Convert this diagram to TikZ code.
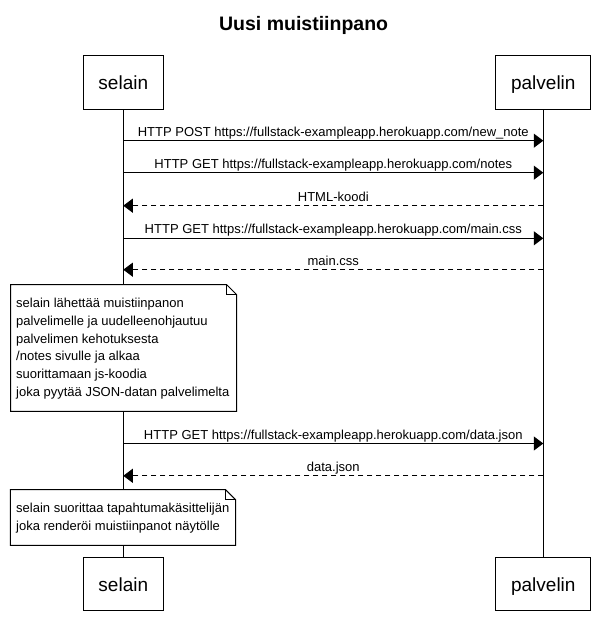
\documentclass[tikz,border=0pt]{standalone}
\usepackage{fontspec}
\setmainfont{Liberation Sans}
\usetikzlibrary{arrows.meta,calc}
\begin{document}
\begin{tikzpicture}[x=1pt,y=-1pt,
  pbox/.style={draw=black, line width=1pt, fill=white, inner sep=0pt,
    minimum height=53.3pt, text height=15pt, text depth=0pt,
    font=\fontsize{19pt}{22pt}\selectfont},
  lifeline/.style={draw=black, line width=1pt},
  msg/.style={draw=black, line width=1pt, -{Triangle[length=9.5pt,width=14pt]}},
  reply/.style={msg, dash pattern=on 5pt off 4pt},
  lbl/.style={anchor=base, inner sep=0pt, font=\fontsize{13pt}{15pt}\selectfont},
  notebox/.style={draw=black, line width=1pt, fill=white},
  notetxt/.style={anchor=north west, inner sep=0pt, align=left,
    font=\fontsize{13pt}{17.75pt}\selectfont},
]
\useasboundingbox (0,0) rectangle (605,634);
\fill[white] (0,0) rectangle (605,634);

% title
\node[anchor=base, inner sep=0pt, font=\bfseries\fontsize{19.5pt}{22pt}\selectfont] (title) at (303.6,30.7) {Uusi muistiinpano};

% participants
\node[pbox, minimum width=80pt] (s1) at (123.3,82.35) {selain};
\node[pbox, minimum width=94.7pt] (p1) at (543.3,82.35) {palvelin};
\node[pbox, minimum width=80pt] (s2) at (123.3,583.85) {selain};
\node[pbox, minimum width=94.7pt] (p2) at (543.3,583.85) {palvelin};

% lifelines
\draw[lifeline] (s1.south) -- (s2.north);
\draw[lifeline] (p1.south) -- (p2.north);

% message end points on lifelines
\foreach \n/\y in {1/140.7,2/172.7,3/205.7,4/238.3,5/269.7,6/443.5,7/475.8}{
  \coordinate (sl\n) at (123.3,\y);
  \coordinate (pl\n) at (543.3,\y);
}

\draw[msg] (sl1) -- (pl1);
\node[lbl] (m1) at ([yshift=4.5pt]$(sl1)!0.5!(pl1)$) {HTTP POST https://fullstack-exampleapp.herokuapp.com/new\_note};
\draw[msg] (sl2) -- (pl2);
\node[lbl] (m2) at ([yshift=4.5pt]$(sl2)!0.5!(pl2)$) {HTTP GET https://fullstack-exampleapp.herokuapp.com/notes};
\draw[reply] (pl3) -- (sl3);
\node[lbl] (m3) at ([yshift=4.5pt]$(sl3)!0.5!(pl3)$) {HTML-koodi};
\draw[msg] (sl4) -- (pl4);
\node[lbl] (m4) at ([yshift=4.5pt]$(sl4)!0.5!(pl4)$) {HTTP GET https://fullstack-exampleapp.herokuapp.com/main.css};
\draw[reply] (pl5) -- (sl5);
\node[lbl] (m5) at ([yshift=4.5pt]$(sl5)!0.5!(pl5)$) {main.css};

% note 1
\draw[notebox] (10.7,284.7) -- (226.7,284.7) -- (236.7,294.7) -- (236.7,411.3) -- (10.7,411.3) -- cycle;
\draw[line width=1pt] (226.7,284.7) -- (226.7,294.7) -- (236.7,294.7);
\node[notetxt] (n1) at (16,298) {selain lähettää muistiinpanon\\palvelimelle ja uudelleenohjautuu\\palvelimen kehotuksesta\\/notes sivulle ja alkaa\\suorittamaan js-koodia\\joka pyytää JSON-datan palvelimelta};

\draw[msg] (sl6) -- (pl6);
\node[lbl] (m6) at ([yshift=4.5pt]$(sl6)!0.5!(pl6)$) {HTTP GET https://fullstack-exampleapp.herokuapp.com/data.json};
\draw[reply] (pl7) -- (sl7);
\node[lbl] (m7) at ([yshift=4.5pt]$(sl7)!0.5!(pl7)$) {data.json};

% note 2
\draw[notebox] (10.4,489.7) -- (225.5,489.7) -- (235.5,499.7) -- (235.5,545.3) -- (10.4,545.3) -- cycle;
\draw[line width=1pt] (225.5,489.7) -- (225.5,499.7) -- (235.5,499.7);
\node[notetxt] (n2) at (16,503) {selain suorittaa tapahtumakäsittelijän\\joka renderöi muistiinpanot näytölle};
\end{tikzpicture}
\end{document}
